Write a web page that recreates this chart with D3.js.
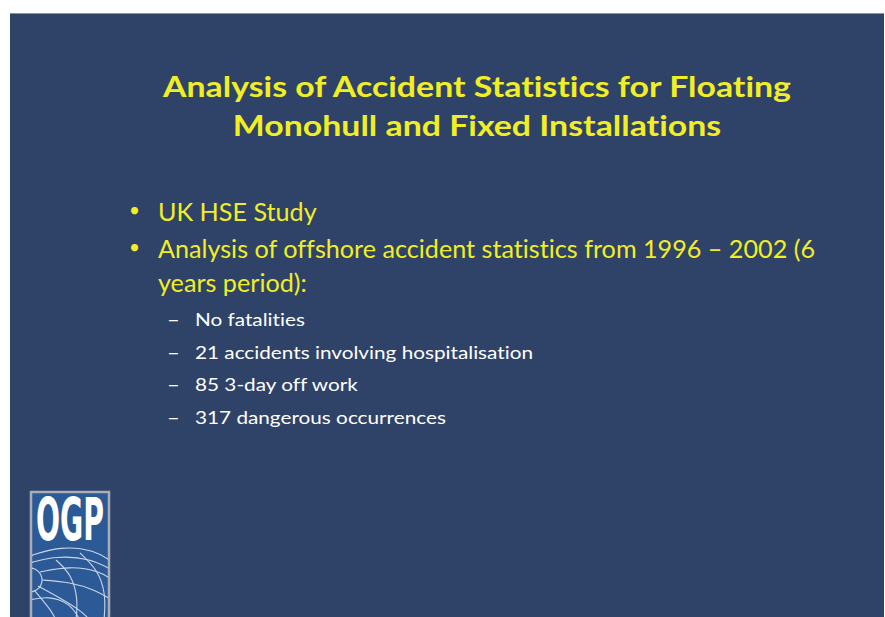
<!DOCTYPE html>
<html>
<head>
<meta charset="utf-8">
<script src="https://cdn.jsdelivr.net/npm/d3@7"></script>
<style>
  html, body { margin: 0; padding: 0; background: #ffffff; }
  svg { display: block; }
  text { font-variant-ligatures: none; }
</style>
</head>
<body>
<div id="slide"></div>
<script>
const titleLines = ["Analysis of Accident Statistics for Floating", "Monohull and Fixed Installations"];
const bulletLines = ["UK HSE Study", "Analysis of offshore accident statistics from 1996 \u2013 2002 (6", "years period):"];
const bulletMarks = ["\u2022", "\u2022", ""];
const subLines = ["No fatalities", "21 accidents involving hospitalisation", "85 3-day off work", "317 dangerous occurrences"];
const logoText = "OGP";

(function slide() {
  const width = 885, height = 617;
  const font = "Lato, 'Open Sans', sans-serif";
  const yellow = "#f2ee24";

  const svg = d3.select("#slide").append("svg")
    .attr("width", width)
    .attr("height", height)
    .attr("viewBox", [0, 0, width, height]);

  // stretch a block of lines so its widest line gets the wanted width
  function fitBlock(sel, wanted) {
    let widest = d3.max(sel.nodes(), n => n.getComputedTextLength());
    let k = wanted / widest;
    sel.each(function() {
      let len = this.getComputedTextLength();
      d3.select(this)
        .attr("textLength", len * k)
        .attr("lengthAdjust", "spacingAndGlyphs");
    });
  }

  // slide background
  svg.append("rect")
    .attr("x", 10).attr("y", 13)
    .attr("width", 874).attr("height", 610)
    .attr("fill", "#2f4369");
  svg.append("line")
    .attr("x1", 10).attr("x2", 884).attr("y1", 13.5).attr("y2", 13.5)
    .attr("stroke", "#8a93a6").attr("stroke-width", 1);

  // title
  let yTitle = d3.scalePoint().domain(titleLines).range([97, 136]);
  let title = svg.selectAll(".title").data(titleLines).join("text")
    .attr("class", "title")
    .attr("x", 477)
    .attr("y", d => yTitle(d))
    .attr("text-anchor", "middle")
    .attr("font-family", font)
    .attr("font-weight", "bold")
    .attr("font-size", 28)
    .attr("fill", yellow)
    .text(d => d);
  fitBlock(title, 628);

  // main bullets
  const yBullet = [221, 258, 292];
  svg.selectAll(".bmark").data(bulletMarks).join("text")
    .attr("x", 129)
    .attr("y", (d, i) => yBullet[i] - 4)
    .attr("font-family", font)
    .attr("font-size", 19)
    .attr("fill", yellow)
    .text(d => d);
  let blines = svg.selectAll(".bline").data(bulletLines).join("text")
    .attr("class", "bline")
    .attr("x", 158)
    .attr("y", (d, i) => yBullet[i])
    .attr("font-family", font)
    .attr("font-size", 25)
    .attr("fill", yellow)
    .text(d => d);
  fitBlock(blines, 657);

  // sub bullets
  let ySub = d3.scalePoint().domain(d3.range(subLines.length)).range([326, 424]);
  svg.selectAll(".smark").data(subLines).join("text")
    .attr("x", 167)
    .attr("y", (d, i) => ySub(i) + 1)
    .attr("font-family", font)
    .attr("font-size", 22)
    .attr("fill", "#ffffff")
    .text("\u2013");
  let slines = svg.selectAll(".sline").data(subLines).join("text")
    .attr("class", "sline")
    .attr("x", 195)
    .attr("y", (d, i) => ySub(i))
    .attr("font-family", font)
    .attr("font-size", 18)
    .attr("fill", "#ffffff")
    .text(d => d);
  fitBlock(slines, 338);

  // OGP logo
  const logo = svg.append("g");
  logo.append("clipPath").attr("id", "logoclip")
    .append("rect").attr("x", 32).attr("y", 493).attr("width", 76).attr("height", 124);
  logo.append("rect")
    .attr("x", 31).attr("y", 492).attr("width", 78).attr("height", 130)
    .attr("fill", "#2c5a97")
    .attr("stroke", "#a9adb8").attr("stroke-width", 2.5);

  const globe = logo.append("g")
    .attr("clip-path", "url(#logoclip)")
    .attr("fill", "none")
    .attr("stroke", "#c9d6ea")
    .attr("stroke-width", 1.1);
  const arc = d3.line().curve(d3.curveBasis);
  const curves = [
    [[30, 556], [60, 546], [95, 550], [112, 562]],
    [[30, 563], [55, 556], [90, 558], [112, 570]],
    [[40, 572], [70, 566], [100, 571], [112, 580]],
    [[42, 580], [70, 582], [95, 590], [112, 600]],
    [[38, 586], [60, 598], [80, 610], [90, 620]],
    [[34, 590], [45, 603], [52, 612], [56, 620]],
    [[56, 560], [72, 575], [78, 600], [76, 620]],
    [[80, 553], [98, 570], [106, 595], [104, 620]],
    [[30, 600], [48, 596], [70, 603], [80, 620]]
  ];
  globe.selectAll("path").data(curves).join("path").attr("d", d => arc(d));
  globe.append("path")
    .attr("d", d3.arc()({ innerRadius: 0, outerRadius: 12, startAngle: 0, endAngle: Math.PI }))
    .attr("transform", "translate(30,580)");

  logo.append("text")
    .attr("x", 70).attr("y", 540)
    .attr("text-anchor", "middle")
    .attr("font-family", "'DejaVu Sans Condensed', 'DejaVu Sans', sans-serif")
    .attr("font-weight", "bold")
    .attr("font-size", 58)
    .attr("textLength", 68)
    .attr("lengthAdjust", "spacingAndGlyphs")
    .attr("fill", "#ffffff")
    .text(logoText);
})();
</script>
</body>
</html>
